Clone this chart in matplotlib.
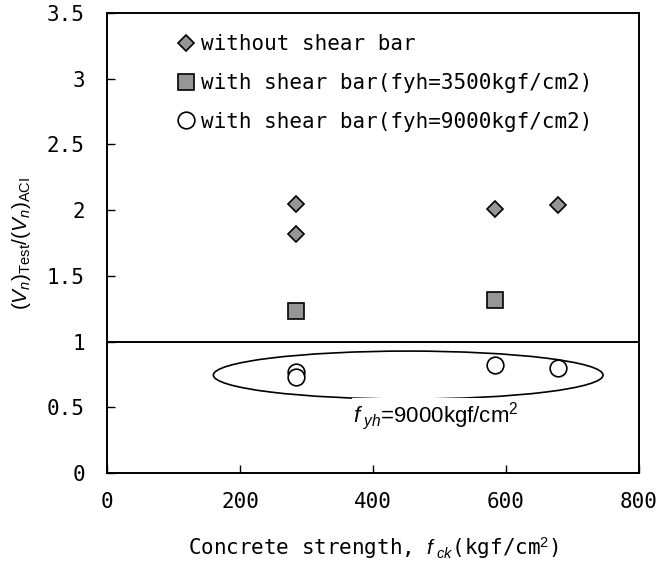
import matplotlib
matplotlib.use('Agg')
import matplotlib.pyplot as plt
from matplotlib.patches import Ellipse

plt.rcParams['mathtext.fontset'] = 'custom'
plt.rcParams['mathtext.rm'] = 'Liberation Sans'
plt.rcParams['mathtext.it'] = 'Liberation Sans:italic'
plt.rcParams['mathtext.bf'] = 'Liberation Sans:bold'

# Datos: resistencia del concreto vs relacion Vn(ensayo)/Vn(ACI)
fck_sin = [284, 284, 583, 678]
ratio_sin = [2.05, 1.82, 2.01, 2.04]

fck_3500 = [284, 583]
ratio_3500 = [1.23, 1.32]

fck_9000 = [284, 284, 583, 678]
ratio_9000 = [0.77, 0.73, 0.82, 0.80]

etiquetas = ['without shear bar',
             'with shear bar(fyh=3500kgf/cm2)',
             'with shear bar(fyh=9000kgf/cm2)']

fuente = 'DejaVu Sans Mono'

fig = plt.figure(figsize=(6.58, 5.68), dpi=100)
ax = fig.add_axes([0.1626, 0.1673, 0.8084, 0.8098])

ax.plot(fck_sin, ratio_sin, 'D', ms=8.6, mfc='#969696', mec='black', mew=1.2,
        ls='none', label=etiquetas[0])
ax.plot(fck_3500, ratio_3500, 's', ms=12, mfc='#969696', mec='black', mew=1.2,
        ls='none', label=etiquetas[1])
ax.plot(fck_9000, ratio_9000, 'o', ms=12, mfc='white', mec='black', mew=1.2,
        ls='none', label=etiquetas[2])

# linea de referencia y elipse que agrupa fyh=9000
ax.axhline(1, color='black', lw=1.4, zorder=1)
ax.add_patch(Ellipse((453, 0.745), 586, 0.365, fill=False, ec='black', lw=1.2))
ax.text(370, 0.39, r'$f_{\ yh}$=9000kgf/cm$^2$', fontsize=16,
        family='Liberation Sans',
        bbox=dict(facecolor='white', edgecolor='none', pad=1))

ax.set_xlim(0, 800)
ax.set_ylim(0, 3.5)
ax.set_xticks([0, 200, 400, 600, 800])
ax.set_yticks([0, 0.5, 1, 1.5, 2, 2.5, 3, 3.5])
ax.set_yticklabels(['0', '0.5', '1', '1.5', '2', '2.5', '3', '3.5'])
ax.tick_params(direction='in', length=6, width=1, labelsize=15)
ax.tick_params(axis='y', pad=16)
ax.tick_params(axis='x', pad=14)
for lbl in ax.get_xticklabels() + ax.get_yticklabels():
    lbl.set_family(fuente)
for s in ax.spines.values():
    s.set_linewidth(1.4)

ax.set_xlabel(r'Concrete strength, $f_{\ ck}$(kgf/cm$^2$)', fontsize=15,
              family=fuente, labelpad=16)
ax.set_ylabel(r'$(V_n)_{\mathrm{Test}}/(V_n)_{\mathrm{ACI}}$', fontsize=15,
              family='Liberation Sans', labelpad=10)

leg = ax.legend(loc='upper left', bbox_to_anchor=(0.11, 0.972), frameon=False,
                prop={'family': fuente, 'size': 15}, handletextpad=0.1,
                labelspacing=0.9, borderaxespad=0, handlelength=1.2)

fig.savefig('out.png', dpi=100)
